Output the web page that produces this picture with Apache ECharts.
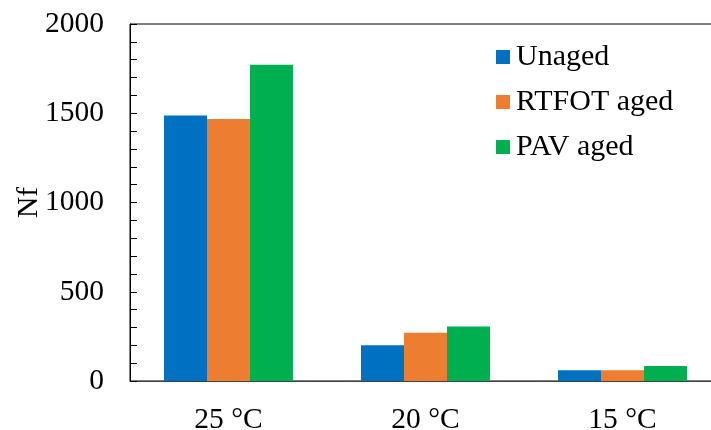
<!DOCTYPE html>
<html>
<head>
<meta charset="utf-8">
<style>html,body{margin:0;padding:0;background:#fff;}#c{width:711px;height:430px;}</style>
<script src="https://cdn.jsdelivr.net/npm/echarts@6/dist/echarts.min.js"></script>
</head>
<body>
<div id="c"></div>
<script>
var categories = ['25 °C', '20 °C', '15 °C'];
var unaged = [1487, 200, 60];
var rtfotAged = [1468, 271, 60];
var pavAged = [1772, 306, 84];
var seriesNames = ['Unaged', 'RTFOT aged', 'PAV aged'];
var colors = ['#0070C0', '#ED7D31', '#00B050'];

var font = 'Liberation Serif, Times New Roman, serif';
var chart = echarts.init(document.getElementById('c'));
chart.setOption({
  animation: false,
  backgroundColor: '#fff',
  grid: { left: 130, top: 24, width: 591, height: 357, containLabel: false, outerBoundsMode: 'none',
    show: true, borderColor: '#000', borderWidth: 1, backgroundColor: 'transparent' },
  legend: {
    orient: 'vertical', left: 491, top: 37,
    icon: 'rect', itemWidth: 14, itemHeight: 14, itemGap: 15,
    textStyle: { fontFamily: font, fontSize: 30, color: '#000', lineHeight: 30, padding: [0,0,0,1] },
    data: seriesNames
  },
  xAxis: {
    type: 'category', data: categories,
    axisLine: { lineStyle: { color: '#404040', width: 1 } },
    axisTick: { show: false },
    axisLabel: { fontFamily: font, fontSize: 29.5, color: '#000', margin: 24 }
  },
  yAxis: {
    type: 'value', min: 0, max: 2000, interval: 100,
    name: 'Nf', nameLocation: 'middle', nameGap: 86, nameMoveOverlap: false,
    nameTextStyle: { fontFamily: font, fontSize: 29.5, color: '#000' },
    axisLine: { show: true, lineStyle: { color: '#000', width: 1 } },
    axisTick: { show: true, inside: true, length: 7, lineStyle: { color: '#000' } },
    axisLabel: { fontFamily: font, fontSize: 29.5, color: '#000', margin: 26,
      formatter: function (v) { return v % 500 === 0 ? String(v) : ''; } },
    splitLine: { show: false }
  },
  series: [
    { name: seriesNames[0], type: 'bar', data: unaged, barWidth: 43, barGap: '0%', itemStyle: { color: colors[0] } },
    { name: seriesNames[1], type: 'bar', data: rtfotAged, barWidth: 43, barGap: '0%', itemStyle: { color: colors[1] } },
    { name: seriesNames[2], type: 'bar', data: pavAged, barWidth: 43, barGap: '0%', itemStyle: { color: colors[2] } }
  ]
});
</script>
</body>
</html>
